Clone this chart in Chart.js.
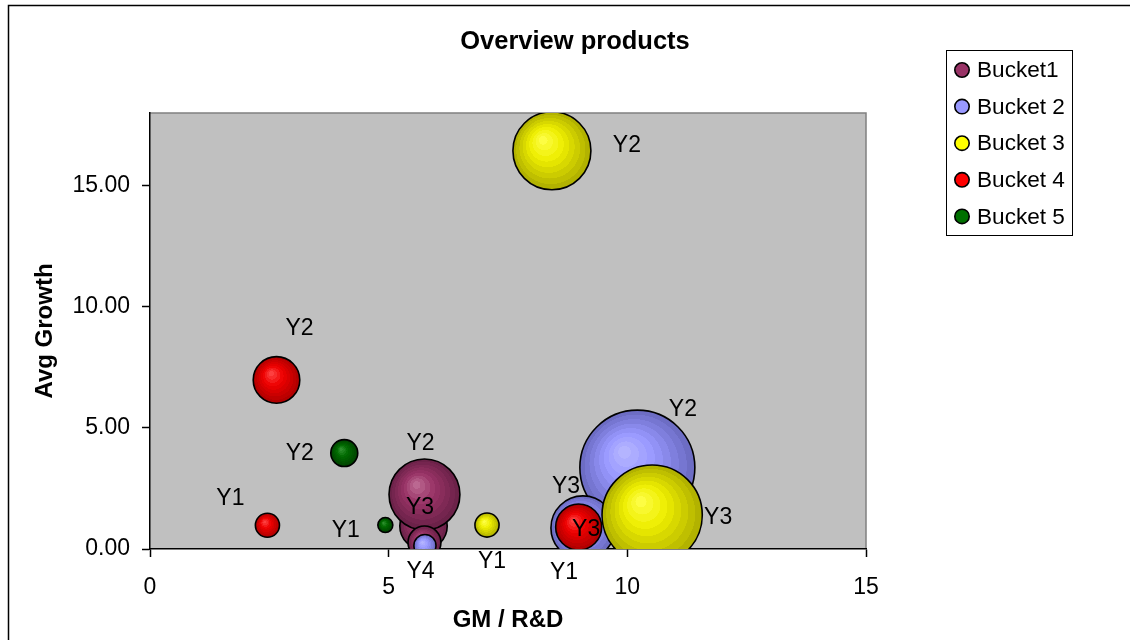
<!DOCTYPE html>
<html>
<head>
<meta charset="utf-8">
<title>Overview products</title>
<script src="https://cdn.jsdelivr.net/npm/chart.js@4.4.1/dist/chart.umd.min.js"></script>
<style>
  html, body { margin: 0; padding: 0; background: #ffffff; }
  #wrap { width: 1130px; height: 640px; position: relative; }
  canvas { display: block; }
</style>
</head>
<body>
<div id="wrap"><canvas id="chart" width="1130" height="640"></canvas></div>
<script>
// ---- data ---------------------------------------------------------------
const bucketNames = ['Bucket1', 'Bucket 2', 'Bucket 3', 'Bucket 4', 'Bucket 5'];

// Bucket1
const b1Gm     = [5.73, 5.75, 5.75];
const b1Growth = [0.95, 2.25, 0.27];
const b1Size   = [17, 38, 8.2];
const b1Tags   = ['Y3', 'Y2', 'Y4'];

// Bucket 2
const b2Gm     = [10.21, 9.07, 5.76];
const b2Growth = [3.36, 0.87, 0.14];
const b2Size   = [100, 31, 3.7];
const b2Tags   = ['Y2', 'Y3', 'Y1'];

// Bucket 3
const b3Gm     = [7.06, 8.42, 10.52];
const b3Growth = [0.99, 16.44, 1.40];
const b3Size   = [4.4, 46, 76];
const b3Tags   = ['Y1', 'Y2', 'Y3'];

// Bucket 4
const b4Gm     = [2.46, 2.65, 8.98];
const b4Growth = [0.98, 6.98, 0.91];
const b4Size   = [4.4, 16.4, 16];
const b4Tags   = ['Y1', 'Y2', 'Y3'];

// Bucket 5
const b5Gm     = [4.93, 4.07];
const b5Growth = [0.99, 3.96];
const b5Size   = [1.7, 5.5];
const b5Tags   = ['Y1', 'Y2'];

const xTicks = [0, 5, 10, 15];
const yTicks = [0, 5, 10, 15];

// ---- styling ------------------------------------------------------------
const FONT = '"Liberation Sans", Arial, Helvetica, sans-serif';
const R_MAX = 57.5;          // pixel radius of a bubble of size 100
const sizeToRadius = s => R_MAX * Math.sqrt(s / 100);

// shading for the spherical look: highlight, body, rim
const palettes = [
  { flat: '#993366', hi: '#c07097', mid: '#993366', lo: '#672046' },
  { flat: '#9999ff', hi: '#b8b8ff', mid: '#9999ff', lo: '#6868be' },
  { flat: '#ffff00', hi: '#ffff4d', mid: '#eeee00', lo: '#acac00' },
  { flat: '#ff0000', hi: '#ff4a4a', mid: '#ee0000', lo: '#aa0000' },
  { flat: '#007000', hi: '#349534', mid: '#006a00', lo: '#004000' }
];

// tag placement relative to each bubble centre (px)
const tagOffsets = [
  [[-3.5, -18], [-4, -50.5], [-4, 29.5]],
  [[45.5, -57.5], [-17, -41], [139, 27]],
  [[5, 37], [75, -5], [66, 3]],
  [[-37, -27], [23, -51.5], [7.5, 3]],
  [[-39.5, 5.5], [-44.5, 1]]
];

function hexToRgb(h) {
  const n = parseInt(h.slice(1), 16);
  return [(n >> 16) & 255, (n >> 8) & 255, n & 255];
}
function mixHex(a, b, t) {
  const A = hexToRgb(a), B = hexToRgb(b);
  return 'rgb(' + A.map((v, i) => Math.round(v + (B[i] - v) * t)).join(',') + ')';
}
function shadeAt(p, t) {
  const k = 0.42;
  return t < k ? mixHex(p.hi, p.mid, t / k) : mixHex(p.mid, p.lo, (t - k) / (1 - k));
}

function bubbleFill(pal) {
  return function (context) {
    if (!context.parsed || !context.raw) return pal.flat;
    const chart = context.chart;
    const cx = chart.scales.x.getPixelForValue(context.parsed.x);
    const cy = chart.scales.y.getPixelForValue(context.parsed.y);
    const r = context.raw.r;
    if (!isFinite(cx) || !isFinite(cy) || !r) return pal.flat;
    const g = chart.ctx.createRadialGradient(cx - 0.25 * r, cy - 0.3 * r, 0, cx, cy, r);
    const bands = 9;
    for (let k = 0; k < bands; k++) {
      const c = shadeAt(pal, (k + 0.5) / bands);
      g.addColorStop(k / bands, c);
      g.addColorStop(Math.min(1, (k + 1) / bands - 0.002), c);
    }
    return g;
  };
}

const series = [
  [b1Gm, b1Growth, b1Size, b1Tags],
  [b2Gm, b2Growth, b2Size, b2Tags],
  [b3Gm, b3Growth, b3Size, b3Tags],
  [b4Gm, b4Growth, b4Size, b4Tags],
  [b5Gm, b5Growth, b5Size, b5Tags]
];

const datasets = series.map(([gm, growth, size, tags], i) => ({
  label: bucketNames[i],
  data: gm.map((x, j) => ({ x: x, y: growth[j], r: sizeToRadius(size[j]), tag: tags[j] })),
  backgroundColor: bubbleFill(palettes[i]),
  borderColor: '#000000',
  borderWidth: 1.6,
  hoverBorderWidth: 1.6,
  clip: 0,
  // later buckets are painted over earlier ones
  order: series.length - i
}));

// ---- plugins ------------------------------------------------------------
const plotBackground = {
  id: 'plotBackground',
  beforeDraw(chart) {
    const { ctx, chartArea: a } = chart;
    ctx.save();
    ctx.fillStyle = '#ffffff';
    ctx.fillRect(0, 0, chart.width, chart.height);
    ctx.fillStyle = '#c0c0c0';
    ctx.fillRect(a.left, a.top, a.right - a.left, a.bottom - a.top);
    ctx.strokeStyle = '#808080';
    ctx.lineWidth = 1.5;
    ctx.beginPath();
    ctx.moveTo(a.left, a.top);
    ctx.lineTo(a.right, a.top);
    ctx.lineTo(a.right, a.bottom);
    ctx.stroke();
    ctx.restore();
  }
};

const bubbleTags = {
  id: 'bubbleTags',
  afterDatasetsDraw(chart) {
    const ctx = chart.ctx;
    ctx.save();
    ctx.font = '23px ' + FONT;
    ctx.fillStyle = '#000000';
    ctx.textAlign = 'center';
    ctx.textBaseline = 'middle';
    chart.data.datasets.forEach((ds, i) => {
      const meta = chart.getDatasetMeta(i);
      meta.data.forEach((el, j) => {
        const off = tagOffsets[i][j];
        ctx.fillText(ds.data[j].tag, el.x + off[0], el.y + off[1]);
      });
    });
    ctx.restore();
  }
};

const frameTitleLegend = {
  id: 'frameTitleLegend',
  afterDraw(chart) {
    const ctx = chart.ctx;
    ctx.save();
    // outer frame
    ctx.strokeStyle = '#000000';
    ctx.lineWidth = 1.5;
    ctx.strokeRect(8.5, 5.5, chart.width + 20, chart.height + 20);

    // title
    ctx.fillStyle = '#000000';
    ctx.font = 'bold 25.5px ' + FONT;
    ctx.textAlign = 'center';
    ctx.textBaseline = 'middle';
    ctx.fillText('Overview products', 575, 42);

    // legend box
    const bx = 946.5, by = 50.5, bw = 126, bh = 185;
    ctx.fillStyle = '#ffffff';
    ctx.fillRect(bx, by, bw, bh);
    ctx.strokeStyle = '#000000';
    ctx.lineWidth = 1;
    ctx.strokeRect(bx, by, bw, bh);
    ctx.font = '22.6px ' + FONT;
    ctx.textAlign = 'left';
    chart.data.datasets.forEach((ds, i) => {
      const y = 70 + i * 36.6;
      ctx.beginPath();
      ctx.arc(962, y, 7.2, 0, Math.PI * 2);
      ctx.fillStyle = palettes[i].flat;
      ctx.fill();
      ctx.lineWidth = 1.6;
      ctx.strokeStyle = '#000000';
      ctx.stroke();
      ctx.fillStyle = '#000000';
      ctx.fillText(ds.label, 977, y + 1);
    });
    ctx.restore();
  }
};

// ---- chart --------------------------------------------------------------
new Chart(document.getElementById('chart'), {
  type: 'bubble',
  data: { datasets: datasets },
  plugins: [plotBackground, bubbleTags, frameTitleLegend],
  options: {
    responsive: false,
    animation: false,
    events: [],
    layout: { padding: { left: 0, top: 113, right: 264, bottom: 0 } },
    plugins: {
      legend: { display: false },
      tooltip: { enabled: false },
      title: { display: false }
    },
    scales: {
      x: {
        type: 'linear',
        min: 0,
        max: 15,
        z: 1,
        afterBuildTicks(scale) { scale.ticks = xTicks.map(v => ({ value: v })); },
        ticks: { color: '#000000', font: { family: FONT, size: 23 }, padding: 17, maxRotation: 0, callback: v => String(v) },
        grid: { drawOnChartArea: false, tickLength: 8, tickColor: '#000000', tickWidth: 1.5 },
        border: { color: '#000000', width: 1.5 },
        title: { display: true, text: 'GM / R&D', color: '#000000', font: { family: FONT, size: 24, weight: 'bold' }, padding: { top: 0, bottom: 5.6 } },
        afterFit(scale) { scale.height = 91; scale.paddingLeft = 0; scale.paddingRight = 0; }
      },
      y: {
        type: 'linear',
        min: 0,
        max: 18,
        z: 1,
        afterBuildTicks(scale) { scale.ticks = yTicks.map(v => ({ value: v })); },
        ticks: { color: '#000000', font: { family: FONT, size: 23 }, padding: 12, callback: v => Number(v).toFixed(2) },
        grid: { drawOnChartArea: false, tickLength: 8, tickColor: '#000000', tickWidth: 1.5 },
        border: { color: '#000000', width: 1.5 },
        title: { display: true, text: 'Avg Growth', color: '#000000', font: { family: FONT, size: 24, weight: 'bold' }, padding: { top: 30.6, bottom: 0 } },
        afterFit(scale) { scale.width = 150; scale.paddingTop = 0; scale.paddingBottom = 0; }
      }
    }
  }
});
</script>
</body>
</html>
